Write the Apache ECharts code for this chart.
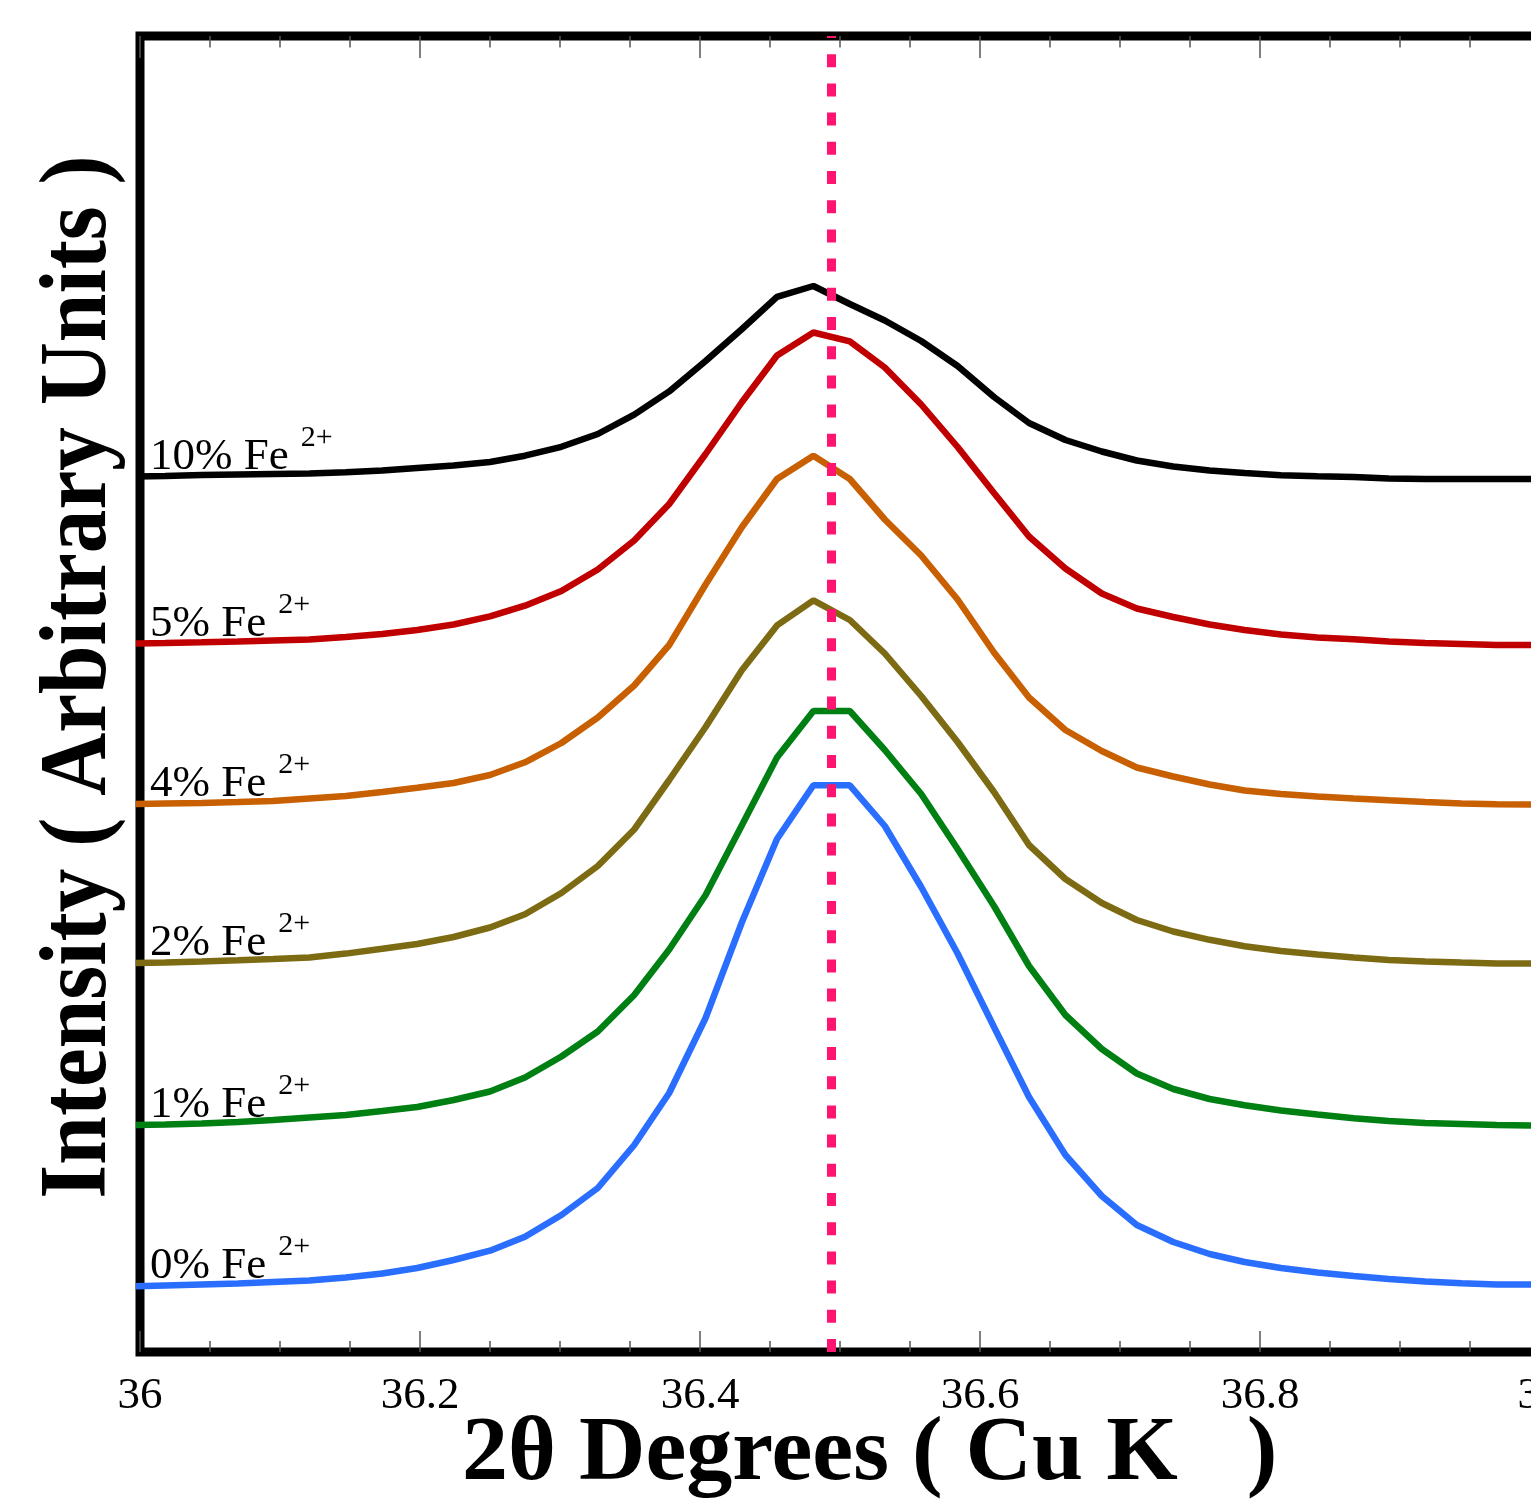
<!DOCTYPE html>
<html><head><meta charset="utf-8">
<script src="https://cdn.jsdelivr.net/npm/echarts@6/dist/echarts.min.js"></script>
<style>html,body{margin:0;padding:0;background:#fff}#c{width:1531px;height:1500px}</style>
</head><body><div id="c"></div>
<script>
// 2θ positions of the measured points (degrees)
const twoTheta = [35.992,36.018,36.044,36.070,36.095,36.121,36.147,36.173,36.198,36.224,36.250,36.275,36.301,36.327,36.353,36.378,36.404,36.430,36.455,36.481,36.507,36.532,36.558,36.584,36.610,36.635,36.661,36.687,36.712,36.738,36.764,36.789,36.815,36.841,36.867,36.892,36.918,36.944,36.969,36.995,37.021];
// Intensities (arbitrary units, stacked offsets included)
const fe0  = [65.5,66.5,67.5,68.5,70,71.5,74.5,78.5,84,92,101.3,115.3,137,164,207,259,334,430,513,566.7,566.7,526,465,398.5,325,255,197,156,127,110,98,90,84,79.5,76,73,70.5,68.8,67.6,67.5,67.5];
const fe1  = [227,227.5,228.5,230,232,234.5,237,241,245,252,260.5,274.5,295.5,320.5,357,402.5,457,527,594.5,641,641,602,558,503,446,386,337,303,278.5,263,253,246.7,241.5,237.5,233.7,231,229,228,227,226.5,226];
const fe2  = [389,389.5,390.5,391.7,393,394.5,398.4,403.2,408,415,424.5,437.7,459,486,522.5,572,625,682,726.6,751.6,732,698.5,656,610,560,507,473,449,432,420.5,412.2,405.7,401,397.5,394.5,392,390.5,389.5,388.6,388.5,388.5];
const fe4  = [548,548.5,549,550,551,553.5,556,560,564.2,569,577,589.7,609,634.5,666.5,707,767.5,825,873,896.3,873,832.5,796.5,752.5,699.5,654.5,622,601,584.5,575.5,567.5,561.5,558,555.5,553.5,551.7,550,548.5,547.7,547.4,547];
const fe5  = [708.5,709,709.7,710.5,711.5,712.5,715,718,722,727.5,735.6,746.3,761,782.5,811.5,848,898,950,996.5,1019.5,1010.7,984.5,947.5,905,859,815.5,783.5,758.5,743.5,735,727.5,722,717.5,714.5,712.7,710.5,709,708,707,707,707];
const fe10 = [875.5,876,877,877.5,878,878.5,879.7,881.5,884,886.5,890,896.3,905.2,918,937.4,960.6,991,1023,1055.2,1066,1048,1031.5,1011,986,955,929,912,900.5,891.5,885.5,881.5,879,876.7,875.7,875,873.5,873,873,873,873,873];

const seriesNames = ['0% Fe','1% Fe','2% Fe','4% Fe','5% Fe','10% Fe'];
const seriesData = [fe0, fe1, fe2, fe4, fe5, fe10];
const seriesColors = ['#2A6EFF','#007F12','#7D6B14','#C85F00','#C00000','#000000'];
const superscript = '2+';
const xMin = 36, xMax = 37, xInterval = 0.2;
const refLine = 36.494;
const xTitle = '2θ Degrees ( Cu K   )';
const yTitle = 'Intensity ( Arbitrary Units )';

const SERIF = '"Liberation Serif","Times New Roman",serif';
const chart = echarts.init(document.getElementById('c'));

const series = seriesData.map((vals, i) => ({
  name: seriesNames[i],
  type: 'line',
  data: vals.map((v, j) => [twoTheta[j], v]),
  showSymbol: false,
  symbol: 'none',
  lineStyle: { color: seriesColors[i], width: 6.5 },
  itemStyle: { color: seriesColors[i] },
  z: 3,
  silent: true
}));
series.push({
  type: 'line', data: [], z: 10, silent: true,
  markLine: {
    silent: true, symbol: 'none', animation: false, precision: 4,
    label: { show: false },
    lineStyle: { color: '#FF1470', width: 9, type: [13, 16.2] },
    emphasis: { disabled: true },
    data: [{ xAxis: refLine }]
  }
});

const tickStyle = { color: '#555', width: 1.5 };
chart.setOption({
  animation: false,
  backgroundColor: '#fff',
  grid: { left: 140, width: 1400, top: 36, height: 1316, outerBoundsMode: 'none', containLabel: false,
          show: true, borderColor: '#000', borderWidth: 9, backgroundColor: 'transparent' },
  xAxis: [{
    type: 'value', min: xMin, max: xMax, interval: xInterval, position: 'bottom',
    axisLine: { show: false },
    axisTick: { show: true, inside: true, length: 21, lineStyle: tickStyle },
    minorTick: { show: true, splitNumber: 4, length: 11, lineStyle: tickStyle },
    axisLabel: { show: true, margin: 22, color: '#000', fontSize: 45, fontFamily: SERIF, hideOverlap: false },
    splitLine: { show: false }
  }, {
    type: 'value', min: xMin, max: xMax, interval: xInterval, position: 'top',
    axisLine: { show: false },
    axisTick: { show: true, inside: true, length: 22, lineStyle: tickStyle },
    minorTick: { show: true, splitNumber: 4, length: 11.5, lineStyle: tickStyle },
    axisLabel: { show: false },
    splitLine: { show: false }
  }],
  yAxis: {
    type: 'value', min: 0, max: 1316,
    axisLine: { show: false }, axisTick: { show: false }, axisLabel: { show: false }, splitLine: { show: false }
  },
  series: series
});

// text annotations
const mctx = document.createElement('canvas').getContext('2d');
const mainFont = '45px ' + SERIF;
const supFont = '30px ' + SERIF;
mctx.font = mainFont;
const graphics = [];
seriesNames.forEach((name, i) => {
  const py = chart.convertToPixel({ xAxisIndex: 0, yAxisIndex: 0 }, [xMin, seriesData[i][1]])[1];
  const base = py - 4;
  const w = mctx.measureText(name).width;
  graphics.push({
    type: 'text', x: 150, y: base - 0.3375 * 45, z: 20,
    style: { text: name, font: mainFont, fill: '#000', textAlign: 'left', textVerticalAlign: 'middle' }
  });
  graphics.push({
    type: 'text', x: 150 + w + 12, y: base - 24 - 0.3375 * 30, z: 20,
    style: { text: superscript, font: supFont, fill: '#000', textAlign: 'left', textVerticalAlign: 'middle' }
  });
});
graphics.push({
  type: 'text', x: 462, y: 1455, z: 20,
  style: { text: xTitle, font: 'bold 92px ' + SERIF, fill: '#000', textAlign: 'left', textVerticalAlign: 'middle' }
});
graphics.push({
  type: 'text', x: 80, y: 677, rotation: Math.PI / 2, scaleX: 0.91, scaleY: 1, z: 20,
  style: { text: yTitle, font: 'bold 96px ' + SERIF, fill: '#000', textAlign: 'center', textVerticalAlign: 'middle' }
});
chart.setOption({ graphic: { elements: graphics } });
</script>
</body></html>
